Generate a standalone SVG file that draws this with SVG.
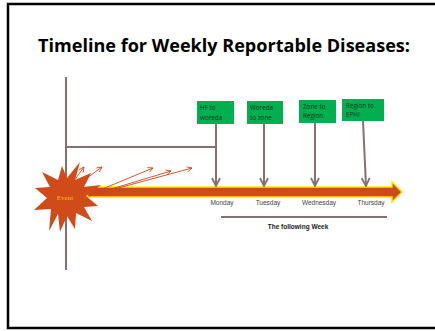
<svg xmlns="http://www.w3.org/2000/svg" width="435" height="331" viewBox="0 0 435 331">
  <style>
    .frame { fill: none; stroke: #000000; stroke-width: 2.5; }
    .title { font-family: "Open Sans", "Liberation Sans", sans-serif; font-weight: bold; font-size: 18px; fill: #000000; }
    .conn { fill: none; stroke: #8a6f70; stroke-width: 2; }
    .burst { fill: none; stroke: #c9471a; stroke-width: 0.9; }
    .step { fill: #00b050; }
    .step-text { font-family: "Open Sans", "Liberation Sans", sans-serif; font-size: 6.3px; fill: #1b2f1b; }
    .day { font-family: "Liberation Sans", sans-serif; font-size: 6.5px; fill: #454545; text-anchor: middle; }
    .week { font-family: "Liberation Sans", sans-serif; font-weight: bold; font-size: 6.5px; fill: #1a1a1a; text-anchor: middle; }
  </style>
  <defs>
    <marker id="down" viewBox="0 0 10 10" refX="9" refY="5" markerWidth="5" markerHeight="5" orient="auto" markerUnits="strokeWidth">
      <path d="M1,1 L9,5 L1,9" fill="none" stroke="#8a6f70" stroke-width="1.8"/>
    </marker>
    <marker id="ray" viewBox="0 0 10 10" refX="9" refY="5" markerWidth="7" markerHeight="7" orient="auto" markerUnits="strokeWidth">
      <path d="M1,1 L9,5 L1,9" fill="none" stroke="#c9471a" stroke-width="1.3"/>
    </marker>
  </defs>

  <!-- page frame: top, left and bottom edges -->
  <path class="frame" d="M440,4 L8,4 L8,328 L440,328"/>

  <text class="title" x="224" y="52" text-anchor="middle" textLength="372" lengthAdjust="spacingAndGlyphs">Timeline for Weekly Reportable Diseases:</text>

  <!-- timeline band -->
  <g id="timeline">
    <path d="M88,187 L392,187 L392,182 L402,192 L392,202 L392,197 L88,197 Z" fill="#d0491a" stroke="#ffe600" stroke-width="1.4" stroke-linejoin="miter"/>
  </g>

  <g id="connectors">
    <!-- event axis -->
    <line class="conn" x1="66" y1="77" x2="66" y2="270"/>
    <polyline class="conn" points="66,147 216,147"/>
    <!-- reporting steps down to the days -->
    <line class="conn" x1="216" y1="124" x2="216" y2="186" marker-end="url(#down)"/>
    <line class="conn" x1="264" y1="124" x2="264" y2="186" marker-end="url(#down)"/>
    <line class="conn" x1="315" y1="123" x2="315" y2="186" marker-end="url(#down)"/>
    <line class="conn" x1="363" y1="121" x2="366" y2="186" marker-end="url(#down)"/>
    <!-- following week bracket -->
    <line class="conn" x1="221" y1="217" x2="387" y2="217"/>
    <!-- rays from the event -->
    <line class="burst" x1="66" y1="192" x2="84" y2="167" marker-end="url(#ray)"/>
    <line class="burst" x1="69" y1="191" x2="102" y2="167" marker-end="url(#ray)"/>
    <line class="burst" x1="88" y1="195" x2="153" y2="168" marker-end="url(#ray)"/>
    <line class="burst" x1="88" y1="196" x2="171" y2="171" marker-end="url(#ray)"/>
    <line class="burst" x1="89" y1="196" x2="192" y2="168" marker-end="url(#ray)"/>
  </g>

  <g id="event">
    <polygon fill="#d04a1a" points="80,162 75,180 91,173 84,187 101,185 86,196 98,206 84,207 92,221 76,213 75,229 67,216 60,232 58,214 49,231 51,209 34,210 47,198 35,188 50,187 42,172 58,180 62,166 67,178"/>
    <text x="65" y="200" font-family="Liberation Serif, serif" font-size="7" fill="#f7c200" text-anchor="middle">Event</text>
  </g>

  <g id="step-hf">
    <rect class="step" x="197" y="101" width="37" height="23"/>
    <text class="step-text" x="200" y="110">HF to</text>
    <text class="step-text" x="200" y="120">woreda</text>
  </g>
  <g id="step-woreda">
    <rect class="step" x="247" y="101" width="36" height="23"/>
    <text class="step-text" x="250" y="110">Woreda</text>
    <text class="step-text" x="250" y="120">to zone</text>
  </g>
  <g id="step-zone">
    <rect class="step" x="299" y="100" width="37" height="23"/>
    <text class="step-text" x="303" y="109">Zone to</text>
    <text class="step-text" x="303" y="118">Region</text>
  </g>
  <g id="step-region">
    <rect class="step" x="342" y="99" width="42" height="22"/>
    <text class="step-text" x="346" y="108">Region to</text>
    <text class="step-text" x="346" y="117">EPHI</text>
  </g>

  <g id="days">
    <text class="day" x="222" y="205">Monday</text>
    <text class="day" x="268" y="205">Tuesday</text>
    <text class="day" x="319" y="205">Wednesday</text>
    <text class="day" x="371" y="205">Thursday</text>
  </g>

  <g id="week-label">
    <text class="week" x="298" y="229">The following Week</text>
  </g>
</svg>
